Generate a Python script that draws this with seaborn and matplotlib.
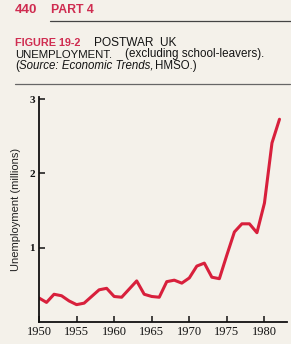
import matplotlib
matplotlib.use("Agg")
import matplotlib.pyplot as plt
import seaborn as sns
import pandas as pd

years = list(range(1950, 1983))
unemployment = [0.32, 0.26, 0.37, 0.35, 0.28, 0.23, 0.25, 0.34, 0.43, 0.45,
                0.34, 0.33, 0.44, 0.55, 0.37, 0.34, 0.33, 0.54, 0.56, 0.52,
                0.59, 0.75, 0.79, 0.60, 0.58, 0.90, 1.21, 1.32, 1.32, 1.20,
                1.60, 2.41, 2.73]
xticks = [1950, 1955, 1960, 1965, 1970, 1975, 1980]
yticks = [1, 2, 3]

df = pd.DataFrame({"year": years, "unemp": unemployment})

sns.set_style("ticks")
bg = "#f4f1ea"
W, H = 291, 344
fig = plt.figure(figsize=(W / 100, H / 100), dpi=100, facecolor=bg)
ax = fig.add_axes([39 / W, 1 - 321.7 / H, (287 - 39) / W, (321.7 - 97) / H])
ax.set_facecolor(bg)

sns.lineplot(data=df, x="year", y="unemp", ax=ax, color="#d8203c", linewidth=2.2)

ax.set_xlim(1950, 1983)
ax.set_ylim(0, 3.03)
ax.set_xticks(xticks)
ax.set_yticks(yticks)
ax.set_xticklabels([str(t) for t in xticks], fontfamily="Liberation Serif", fontsize=9)
ax.set_yticklabels([str(t) for t in yticks], fontfamily="Liberation Serif", fontsize=8, fontweight="bold")
ax.tick_params(direction="in", length=4, width=1.1, colors="#111111", pad=3)
for s in ["top", "right"]:
    ax.spines[s].set_visible(False)
for s in ["left", "bottom"]:
    ax.spines[s].set_linewidth(1.3)
    ax.spines[s].set_color("#111111")
ax.set_xlabel("")
ax.set_ylabel("Unemployment (millions)", fontfamily="Liberation Sans", fontsize=8, color="#222222", labelpad=6)

red = "#cf2c50"
ink = "#141414"
fig.text(15 / W, 1 - 12.7 / H, "440", color=red, fontsize=9.5, fontweight="bold", fontfamily="Liberation Sans")
fig.text(51 / W, 1 - 12.7 / H, "PART 4", color=red, fontsize=8.8, fontweight="bold", fontfamily="Liberation Sans")
fig.add_artist(plt.Line2D([50 / W, 1], [1 - 21 / H, 1 - 21 / H], color="#444444", linewidth=0.9))
fig.add_artist(plt.Line2D([15 / W, 290 / W], [1 - 84 / H, 1 - 84 / H], color="#666666", linewidth=0.9))

fig.canvas.draw()
renderer = fig.canvas.get_renderer()


def seq(x_px, y_px, parts):
    x = x_px
    for s, kw, gap in parts:
        t = fig.text(x / W, 1 - y_px / H, s, **kw)
        bb = t.get_window_extent(renderer)
        x = bb.x1 + gap


base = dict(fontfamily="Liberation Sans", color=ink)
fig.text(15 / W, 1 - 46 / H, "FIGURE 19-2", color=red, fontweight="bold", fontsize=7.8, fontfamily="Liberation Sans")
fig.text(94 / W, 1 - 46 / H, "POSTWAR  UK", fontsize=8.6, **base)
fig.text(15 / W, 1 - 57.5 / H, "UNEMPLOYMENT.", fontsize=8.2, **base)
fig.text(125 / W, 1 - 57.5 / H, "(excluding school-leavers).", fontsize=8.4, **base)
seq(15, 69, [("(", dict(base, fontsize=8.3), 0),
             ("Source: Economic Trends,", dict(base, fontsize=8.3, fontstyle="italic"), 2),
             ("HMSO.)", dict(base, fontsize=8.3), 0)])

fig.savefig("out.png", dpi=100, facecolor=bg)
